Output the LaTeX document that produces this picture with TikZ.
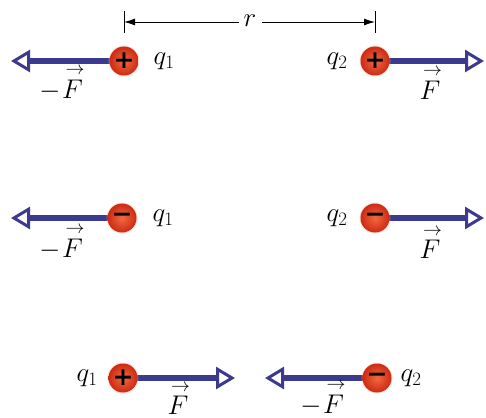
\RequirePackage{fix-cm}
\documentclass[tikz,border=0pt]{standalone}
\usepackage{amsmath}
\usepackage{fontspec}
\newfontfamily\signfont{DejaVu Sans}
\usetikzlibrary{arrows.meta,shadings}
\definecolor{fblue}{HTML}{3B3A8E}
\definecolor{chin}{HTML}{F26A3E}
\definecolor{chout}{HTML}{CC2A14}
\definecolor{glow}{HTML}{F6B29A}
\tikzset{
  charge/.style={circle, minimum size=29pt, inner sep=0pt, shading=radial, inner color=chin, outer color=chout,
    font=\signfont\bfseries\fontsize{25}{25}\selectfont,
    preaction={draw=glow, line width=2pt, opacity=0.4}},
  force/.style={fblue, line width=6pt, -{Triangle[open,length=19pt,width=22pt,line width=3pt]}},
  lbl/.style={font=\fontsize{27}{29}\selectfont, inner sep=0pt},
  dim/.style={black, line width=0.9pt},
}
\newcommand{\vF}{\overset{\;\rightarrow}{F}}
\newcommand{\plussign}{\raisebox{-0.5pt}{+}}
\newcommand{\minussign}{\raisebox{-0.5pt}{−}}
\begin{document}
\begin{tikzpicture}[x=1pt,y=-1pt]
\useasboundingbox (0,0) rectangle (486,417);
% row 1
\coordinate (ta1) at (11,61);
\coordinate (tb1) at (484,61);
\coordinate (ca1) at (124,61);
\coordinate (cb1) at (375,61);
\draw[force] (ca1) -- (ta1);
\draw[force] (cb1) -- (tb1);
\node[charge] (a1) at (ca1) {\plussign};
\node[charge] (b1) at (cb1) {\plussign};
\node[lbl] (qa1) at (164,61) {$q_1$};
\node[lbl] (qb1) at (337,61) {$q_2$};
\node[lbl] (fa1) at (62,83) {$-\vF$};
\node[lbl] (fb1) at (430,83) {$\vF$};
% dimension r
\coordinate (t1a) at (124,11);
\coordinate (t1b) at (124,33);
\coordinate (t2a) at (375,11);
\coordinate (t2b) at (375,33);
\draw[dim] (t1a) -- (t1b);
\draw[dim] (t2a) -- (t2b);
\node[lbl] (r) at (250,21) {$r$};
\coordinate (d1) at (124,22);
\coordinate (d2) at (375,22);
\coordinate (r1) at (239,22);
\coordinate (r2) at (262,22);
\draw[dim,-{Latex[length=11pt,width=7pt]}] (r1) -- (d1);
\draw[dim,-{Latex[length=11pt,width=7pt]}] (r2) -- (d2);
% row 2
\coordinate (ta2) at (11,218);
\coordinate (tb2) at (484,218);
\coordinate (ca2) at (122,218);
\coordinate (cb2) at (375,218);
\draw[force] (ca2) -- (ta2);
\draw[force] (cb2) -- (tb2);
\node[charge] (a2) at (ca2) {\minussign};
\node[charge] (b2) at (cb2) {\minussign};
\node[lbl] (qa2) at (163,218) {$q_1$};
\node[lbl] (qb2) at (337,218) {$q_2$};
\node[lbl] (fa2) at (62,242) {$-\vF$};
\node[lbl] (fb2) at (430,242) {$\vF$};
% row 3
\coordinate (ta3) at (235,378);
\coordinate (tb3) at (265,378);
\coordinate (ca3) at (123,378);
\coordinate (cb3) at (377,378);
\draw[force] (ca3) -- (ta3);
\draw[force] (cb3) -- (tb3);
\node[charge] (a3) at (ca3) {\plussign};
\node[charge] (b3) at (cb3) {\minussign};
\node[lbl] (qa3) at (87,378) {$q_1$};
\node[lbl] (qb3) at (411,378) {$q_2$};
\node[lbl] (fa3) at (178,398) {$\vF$};
\node[lbl] (fb3) at (323,398) {$-\vF$};
\end{tikzpicture}
\end{document}
